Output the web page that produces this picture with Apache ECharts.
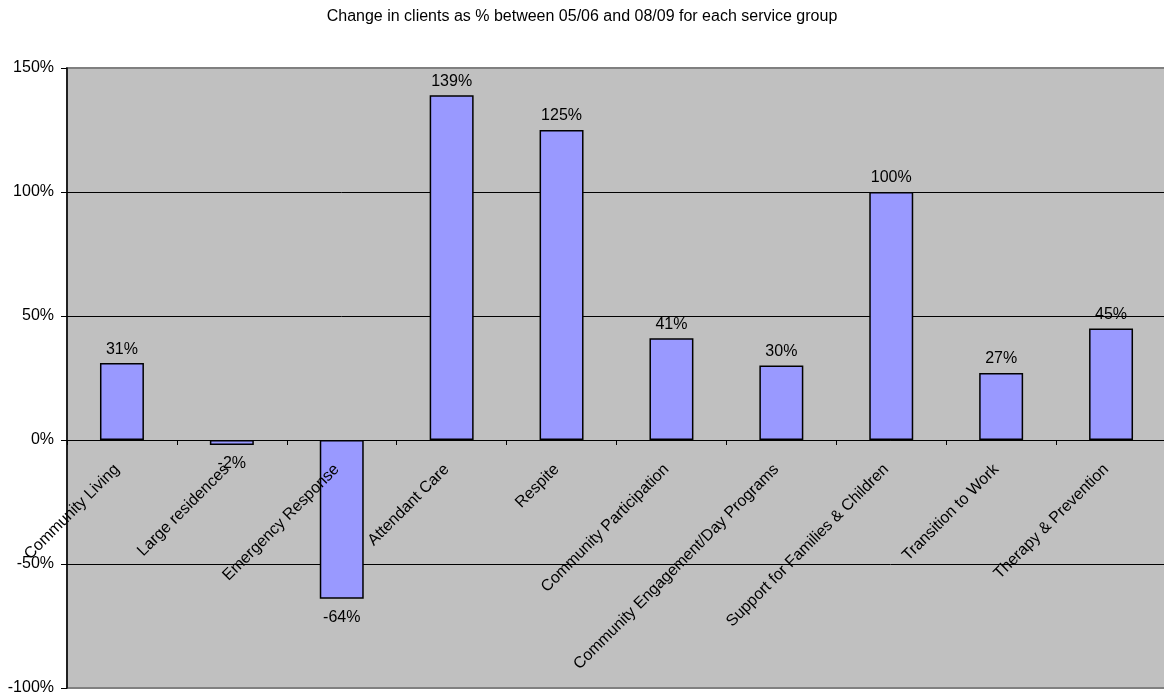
<!DOCTYPE html>
<html>
<head>
<meta charset="utf-8">
<title>Change in clients by service group</title>
<script src="https://cdn.jsdelivr.net/npm/echarts@6/dist/echarts.min.js"></script>
<style>
  html, body { margin: 0; padding: 0; background: #ffffff; }
  #chart { width: 1164px; height: 697px; }
</style>
</head>
<body>
<div id="chart"></div>
<script>
// Service groups, in display order
const categories = [
  'Community Living',
  'Large residences',
  'Emergency Response',
  'Attendant Care',
  'Respite',
  'Community Participation',
  'Community Engagement/Day Programs',
  'Support for Families & Children',
  'Transition to Work',
  'Therapy & Prevention'
];

// Change in clients between 05/06 and 08/09, in percent
const changePct = [31, -2, -64, 139, 125, 41, 30, 100, 27, 45];

// Value axis ticks, in percent
const yTickValues = [-100, -50, 0, 50, 100, 150];

const FONT = "'Liberation Sans', Arial, sans-serif";

// Plot box geometry
const GRID_TOP = 68;
const GRID_HEIGHT = 620;
const yMin = yTickValues[0];
const yMax = yTickValues[yTickValues.length - 1];
// Lift the category axis (line, ticks and labels) up to the zero line
const zeroOffset = -GRID_HEIGHT * (0 - yMin) / (yMax - yMin);

const chart = echarts.init(document.getElementById('chart'), null, { renderer: 'canvas' });

const barData = changePct.map(v => ({
  value: v,
  label: {
    position: v < 0 ? 'bottom' : 'top',
    distance: v < 0 ? 11 : 6
  }
}));

chart.setOption({
  animation: false,
  backgroundColor: '#ffffff',
  textStyle: { fontFamily: FONT },
  title: {
    text: 'Change in clients as % between 05/06 and 08/09 for each service group',
    left: 'center',
    top: 4,
    textStyle: { fontFamily: FONT, fontSize: 16, fontWeight: 'normal', color: '#000000' }
  },
  grid: {
    left: 67,
    top: GRID_TOP,
    width: 1099,
    height: GRID_HEIGHT,
    show: true,
    backgroundColor: '#C0C0C0',
    borderColor: '#808080',
    borderWidth: 2,
    outerBoundsMode: 'none',
    containLabel: false
  },
  xAxis: {
    type: 'category',
    data: categories,
    position: 'bottom',
    offset: zeroOffset,
    z: 5,
    axisLine: { show: true, onZero: false, lineStyle: { color: '#000000', width: 1 } },
    axisTick: { show: true, length: 5, inside: false, lineStyle: { color: '#000000', width: 1 } },
    axisLabel: {
      interval: 0,
      rotate: 45,
      margin: 22,
      padding: [0, 7, 8, 0],
      fontFamily: FONT,
      fontSize: 16,
      color: '#000000'
    },
    splitLine: { show: false }
  },
  yAxis: {
    type: 'value',
    min: yMin,
    max: yMax,
    interval: yTickValues[1] - yTickValues[0],
    axisLine: { show: true, lineStyle: { color: '#000000', width: 1.5 } },
    axisTick: { show: true, length: 6, lineStyle: { color: '#000000', width: 1 } },
    axisLabel: {
      margin: 13,
      fontFamily: FONT,
      fontSize: 16,
      color: '#000000',
      formatter: '{value}%'
    },
    splitLine: {
      show: true,
      showMinLine: false,
      showMaxLine: false,
      lineStyle: { color: '#000000', width: 1 }
    }
  },
  series: [{
    type: 'bar',
    data: barData,
    barWidth: '40%',
    itemStyle: { color: '#9999FF', borderColor: '#000000', borderWidth: 1.5 },
    label: {
      show: true,
      formatter: '{c}%',
      fontFamily: FONT,
      fontSize: 16,
      color: '#000000'
    }
  }]
});
</script>
</body>
</html>
